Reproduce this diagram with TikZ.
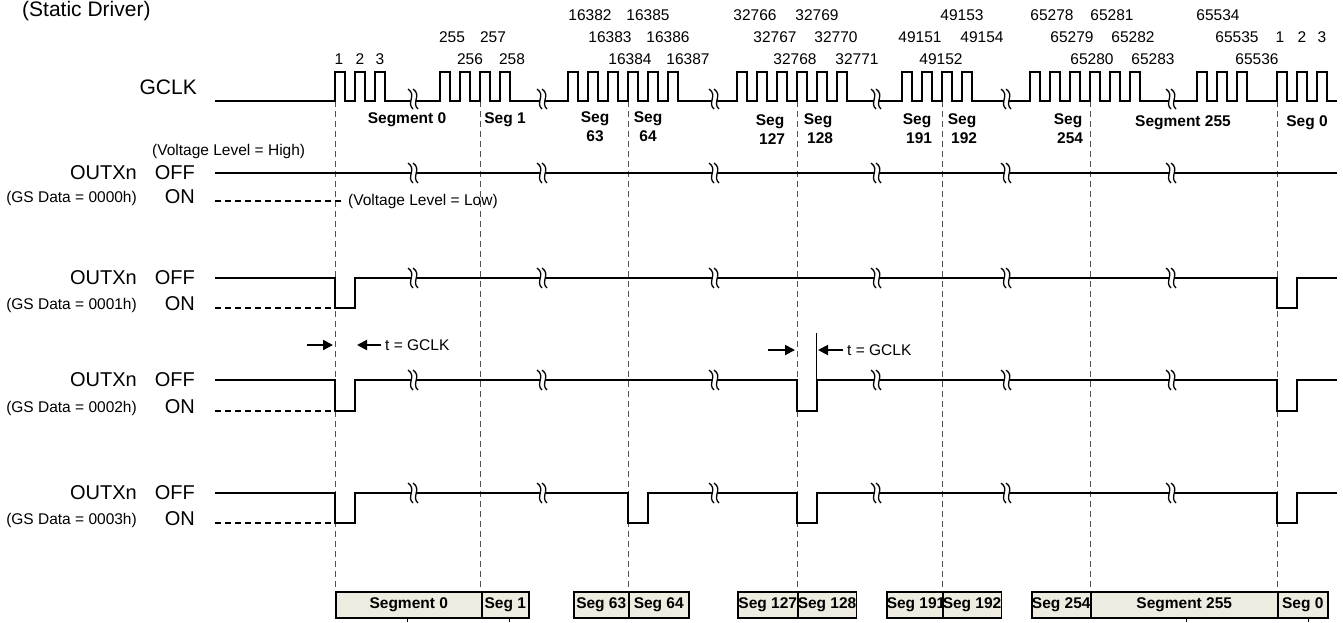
\documentclass[tikz,border=0pt]{standalone}
\usepackage{fontspec}
\setmainfont{Liberation Sans}
\usetikzlibrary{arrows.meta}
\definecolor{boxfill}{HTML}{EEECE1}
\definecolor{dashgray}{HTML}{505050}
\newcommand{\mkrow}[3]{%
  \draw[sig] (215,#1) foreach \p in {#3} { -- (\p,#1) -- (\p,#2) -- ({\p+20},#2) -- ({\p+20},#1) } -- (1337,#1);
  \draw[ondash] (215,#2) -- (335,#2);}
\begin{document}
\begin{tikzpicture}[x=1pt,y=-1pt,
  sig/.style={line width=1.7pt, line join=miter},
  clk/.style={line width=1.5pt, line join=miter},
  vdash/.style={dashgray, line width=1pt, dash pattern=on 6pt off 4pt},
  ondash/.style={line width=1.3pt, dash pattern=on 6pt off 4pt},
  lbl/.style={font=\fontsize{20}{24}\selectfont, inner sep=0pt},
  small/.style={font=\fontsize{15.5}{19}\selectfont, inner sep=0pt},
  num/.style={font=\fontsize{15.5}{19}\selectfont, inner sep=0pt},
  seg/.style={font=\fontsize{15.5}{19}\selectfont\bfseries, inner sep=0pt, align=center},
  segbox/.style={draw, fill=boxfill, line width=1.5pt, inner sep=0pt, minimum height=26pt, font=\fontsize{15.5}{19}\selectfont\bfseries},
  tarrow/.style={-{Triangle[length=10pt,width=10pt]}, line width=2pt},
  brk/.pic={
    \fill[white] (-4,-10) .. controls (5,-4) and (-6,4) .. (1,10) -- (6,10) .. controls (-1,4) and (10,-4) .. (1,-10) -- cycle;
    \draw[line width=1.3pt] (-4,-10) .. controls (5,-4) and (-6,4) .. (1,10);
    \draw[line width=1.3pt] (1,-10) .. controls (10,-4) and (-1,4) .. (6,10);
  }
]
\useasboundingbox (0,0) rectangle (1343,622);

% dashed segment boundaries
\foreach \dx in {335,480,628,797,942,1090,1277}
  \draw[vdash] (\dx,101) -- (\dx,592);

% title
\node[font=\fontsize{21}{25}\selectfont, inner sep=0pt, anchor=west] (title) at (22,11) {(Static Driver)};

% GCLK
\node[lbl, font=\fontsize{21}{25}\selectfont, anchor=east] (gclk) at (197,87) {GCLK};
\draw[clk] (215,101)
  foreach \r in {335,355,375} { -- (\r,101) -- (\r,72) -- ({\r+10},72) -- ({\r+10},101) }
  foreach \r in {440,460,480,500} { -- (\r,101) -- (\r,72) -- ({\r+10},72) -- ({\r+10},101) }
  foreach \r in {568,588,608,628,648,668} { -- (\r,101) -- (\r,72) -- ({\r+10},72) -- ({\r+10},101) }
  foreach \r in {737,757,777,797,817,837} { -- (\r,101) -- (\r,72) -- ({\r+10},72) -- ({\r+10},101) }
  foreach \r in {902,922,942,962} { -- (\r,101) -- (\r,72) -- ({\r+10},72) -- ({\r+10},101) }
  foreach \r in {1030,1050,1070,1090,1110,1130} { -- (\r,101) -- (\r,72) -- ({\r+10},72) -- ({\r+10},101) }
  foreach \r in {1197,1217,1237} { -- (\r,101) -- (\r,72) -- ({\r+10},72) -- ({\r+10},101) }
  foreach \r in {1277,1297,1317} { -- (\r,101) -- (\r,72) -- ({\r+10},72) -- ({\r+10},101) }
  -- (1337,101);

% clock numbers
\foreach \t/\nx/\ny [count=\i] in {
  16382/590/15, 16385/648/15, 32766/755/15, 32769/817/15, 49153/962/15, 65278/1052/15, 65281/1112/15, 65534/1218/15,
  255/452/37, 257/493/37, 16383/610/37, 16386/668/37, 32767/775/37, 32770/836/37, 49151/920/37, 49154/982/37,
  65279/1072/37, 65282/1133/37, 65535/1237/37, 1/1280/37, 2/1302/37, 3/1322/37,
  1/339/59, 2/360/59, 3/380/59, 256/470/59, 258/512/59, 16384/630/59, 16387/688/59, 32768/795/59, 32771/857/59,
  49152/941/59, 65280/1092/59, 65283/1153/59, 65536/1257/59}
  \node[num] (n\i) at (\nx,\ny) {\t};

% segment labels under GCLK
\node[seg] (s0) at (407,120) {Segment 0};
\node[seg] (s1) at (505,120) {Seg 1};
\node[seg] (s63) at (595,127) {Seg\\63};
\node[seg] (s64) at (648,127) {Seg\\64};
\node[seg] (s127) at (770,130) {Seg\\\ 127};
\node[seg] (s128) at (818,129) {Seg\\\ 128};
\node[seg] (s191) at (917,129) {Seg\\\ 191};
\node[seg] (s192) at (962,129) {Seg\\\ 192};
\node[seg] (s254) at (1068,129) {Seg\\\ 254};
\node[seg] (s255) at (1183,123) {Segment 255};
\node[seg] (s0b) at (1307,123) {Seg 0};

% row labels
\foreach \yo/\yon/\gs [count=\k] in {173/201/0000h, 278/308/0001h, 380/411/0002h, 493/523/0003h} {
  \node[lbl, anchor=east] (out\k) at (137,\yo) {OUTXn};
  \node[lbl, anchor=east] (off\k) at (195,\yo) {OFF};
  \node[lbl, anchor=east] (on\k) at (195,{\yon-4}) {ON};
  \node[small, anchor=east] (gs\k) at (137,{\yon-3}) {(GS Data = \gs)};
}

% row 1
\draw[sig] (215,173) -- (1337,173);
\draw[ondash] (215,201) -- (343,201);
\node[small, anchor=west] (vh) at (152,151) {(Voltage Level = High)};
\node[small, anchor=west] (vl) at (348,201) {(Voltage Level = Low)};

% rows 2-4
\mkrow{278}{308}{335,1277}
\mkrow{380}{411}{335,797,1277}
\mkrow{493}{523}{335,628,797,1277}

% breaks
\foreach \bx in {412,541,713,875,1005,1170}
  \foreach \by in {99,173,278,380,493}
    \pic at (\bx,\by) {brk};

% t = GCLK annotations
\coordinate (a1s) at (307,345); \coordinate (a1e) at (333,345);
\coordinate (b1s) at (381,345); \coordinate (b1e) at (357,345);
\draw[tarrow] (a1s) -- (a1e);
\draw[tarrow] (b1s) -- (b1e);
\node[small, anchor=west] (t1) at (385,345) {t = GCLK};
\coordinate (r2t) at (816,333); \coordinate (r2b) at (816,380);
\draw[line width=0.8pt] (r2t) -- (r2b);
\coordinate (a2s) at (768,350); \coordinate (a2e) at (795,350);
\coordinate (b2s) at (843,350); \coordinate (b2e) at (818,350);
\draw[tarrow] (a2s) -- (a2e);
\draw[tarrow] (b2s) -- (b2e);
\node[small, anchor=west] (t2) at (847,350) {t = GCLK};

% bottom segment boxes
\foreach \xa/\xb/\txt [count=\j] in {335/481/Segment 0, 481/528/Seg 1, 573/628/Seg 63, 628/688/Seg 64,
  737/797/Seg 127, 797/855/Seg 128, 886/942/Seg 191, 942/1000/Seg 192, 1031/1090/Seg 254,
  1090/1277/Segment 255, 1277/1327/Seg 0}
  \node[segbox, minimum width={\xb-\xa}, anchor=west] (box\j) at (\xa,605) {\txt};

% small ticks below boxes
\foreach \tx [count=\m] in {407,509,1186,1308} {
  \coordinate (tk\m a) at (\tx,618); \coordinate (tk\m b) at (\tx,622);
  \draw[line width=1pt] (tk\m a) -- (tk\m b);
}
\end{tikzpicture}
\end{document}
